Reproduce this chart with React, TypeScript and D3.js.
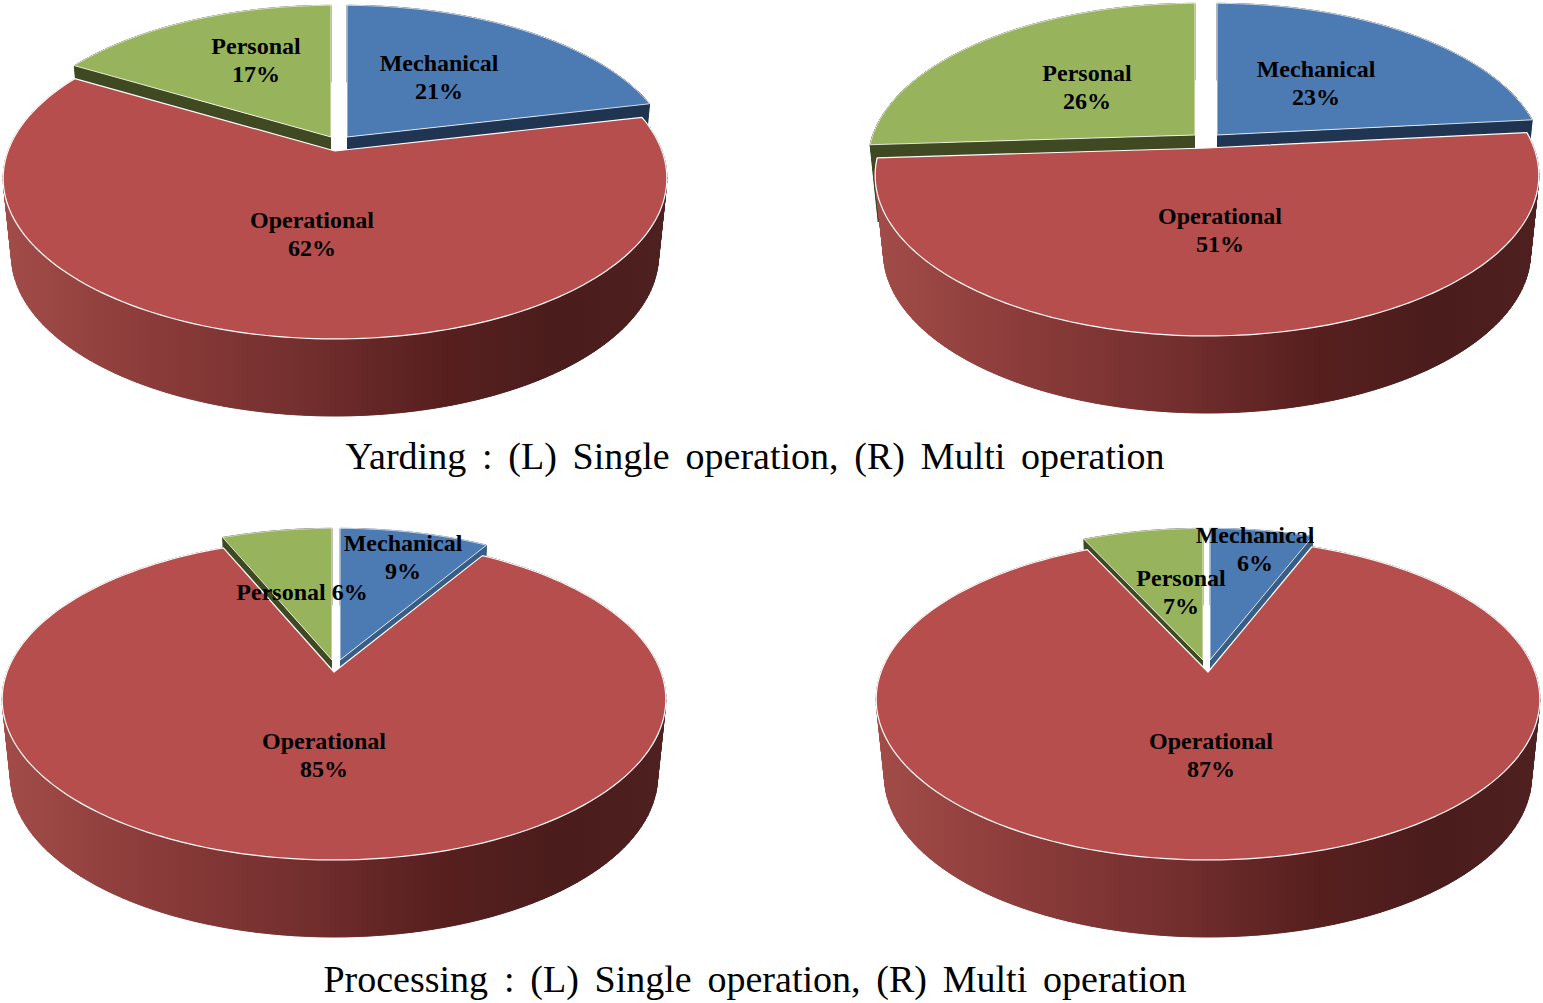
import React from "react";
import * as d3 from "d3";

const categories = ["Mechanical", "Operational", "Personal"];
const yardingSingle = [21.4, 62, 16.6];
const yardingMulti = [23.4, 50.6, 26];
const processingSingle = [8.7, 84.9, 6.4];
const processingMulti = [6, 87, 7];
const captions = [
  "Yarding : (L) Single operation, (R) Multi operation",
  "Processing : (L) Single operation, (R) Multi operation",
];

const WIDTH = 1543;
const HEIGHT = 1003;
const K = 0.17;
const G = 156;
const F = 327;
const DEPTH = 77;
const SLICE_RADIUS = 0.985;

const faceColors = ["#4c7ab3", "#b54e4c", "#97b45d"];
const serif = "'Liberation Serif', serif";

const wallStops = [0, 0.2, 0.45, 0.65, 0.85, 1];
const wallColors = ["#a24c49", "#8d3d3b", "#732f2e", "#58201f", "#4a1c1c", "#4f2020"];

type Label = { name: string; x: number; y: number; lines: string[] };
type Chart = {
  values: number[];
  cx: number;
  apexX: number;
  apexY: number;
  offsets: [number, number][];
  mechWall: string;
  labels: Label[];
};

const charts: Chart[] = [
  {
    values: yardingSingle, cx: 335, apexX: 335, apexY: 151,
    offsets: [[12, -14], [0, 0], [-4, -14]], mechWall: "#1f3552",
    labels: [
      { name: "Mechanical", x: 439, y: 71, lines: ["Mechanical", "21%"] },
      { name: "Operational", x: 312, y: 228, lines: ["Operational", "62%"] },
      { name: "Personal", x: 256, y: 54, lines: ["Personal", "17%"] },
    ],
  },
  {
    values: yardingMulti, cx: 1207, apexX: 1207, apexY: 148,
    offsets: [[10, -13], [0, 0], [-12, -13]], mechWall: "#1f3552",
    labels: [
      { name: "Mechanical", x: 1316, y: 77, lines: ["Mechanical", "23%"] },
      { name: "Operational", x: 1220, y: 224, lines: ["Operational", "51%"] },
      { name: "Personal", x: 1087, y: 81, lines: ["Personal", "26%"] },
    ],
  },
  {
    values: processingSingle, cx: 334, apexX: 334, apexY: 672,
    offsets: [[6, -12], [0, 0], [-2, -12]], mechWall: "#375e87",
    labels: [
      { name: "Mechanical", x: 403, y: 551, lines: ["Mechanical", "9%"] },
      { name: "Operational", x: 324, y: 749, lines: ["Operational", "85%"] },
      { name: "Personal", x: 302, y: 600, lines: ["Personal 6%"] },
    ],
  },
  {
    values: processingMulti, cx: 1208, apexX: 1208, apexY: 672,
    offsets: [[2, -12], [0, 0], [-5, -12]], mechWall: "#375e87",
    labels: [
      { name: "Mechanical", x: 1255, y: 543, lines: ["Mechanical", "6%"] },
      { name: "Operational", x: 1211, y: 749, lines: ["Operational", "87%"] },
      { name: "Personal", x: 1181, y: 586, lines: ["Personal", "7%"] },
    ],
  },
];

const personalWall = "#3f4a22";

const project = (c: Chart, a: number, r = 1, z = 0): [number, number] => {
  const X = Math.sin(a) * r;
  const Y = Math.cos(a) * r;
  const w = 1 + K * Y;
  const shrink = 1 - 0.025 * z;
  return [c.apexX + (F * X * shrink) / w, c.apexY - (G * Y) / w + DEPTH * z];
};

const line = d3.line<[number, number]>();

const SEGMENTS = 160;
const arcPoints = (c: Chart, a0: number, a1: number, r: number, z = 0) =>
  d3.range(0, SEGMENTS + 1).map((i) => project(c, a0 + ((a1 - a0) * i) / SEGMENTS, r, z));

const PieChart = ({ chart, index }: { chart: Chart; index: number }) => {
  const arcs = d3.pie<number>().sort(null).startAngle(0).endAngle(2 * Math.PI)(chart.values);
  const gradId = `opWall${index}`;
  const pieces = arcs.map((arc, i) => {
    const [dx, dy] = chart.offsets[i];
    const r = i === 1 ? 1 : SLICE_RADIUS;
    const top = arcPoints(chart, arc.startAngle, arc.endAngle, r);
    const bottom = arcPoints(chart, arc.startAngle, arc.endAngle, r, 1);
    const apex = project(chart, 0, 0);
    const apexLow = project(chart, 0, 0, 1);
    const strips = d3
      .range(0, SEGMENTS)
      .map((s) => line([top[s], top[s + 1], bottom[s + 1], bottom[s]])! + "Z");
    return {
      i,
      transform: `translate(${dx},${dy})`,
      face: line([apex, ...top])! + "Z",
      strips,
      edgeA: line([apex, top[0], bottom[0], apexLow])! + "Z",
      edgeB: line([apex, top[SEGMENTS], bottom[SEGMENTS], apexLow])! + "Z",
      wall: i === 1 ? `url(#${gradId})` : i === 0 ? chart.mechWall : personalWall,
    };
  });
  const order = [0, 2, 1];
  return (
    <g>
      <defs>
        <linearGradient
          id={gradId}
          gradientUnits="userSpaceOnUse"
          x1={chart.cx - 331}
          x2={chart.cx + 331}
          y1={0}
          y2={0}
        >
          {wallStops.map((o, j) => (
            <stop key={o} offset={o} stopColor={wallColors[j]} />
          ))}
        </linearGradient>
      </defs>
      {order.map((i) => {
        const p = pieces[i];
        return (
          <g key={categories[i]} transform={p.transform}>
            {i !== 1 && <path d={p.edgeA} fill={p.wall} />}
            {i !== 1 && <path d={p.edgeB} fill={p.wall} />}
            <path d={p.strips.join("")} fill={p.wall} stroke={p.wall} strokeWidth={0.7} fillRule="nonzero" />
            {p.strips.map((d, j) => (
              <path key={j} d={d} fill={p.wall} stroke={p.wall} strokeWidth={0.7} />
            ))}
            <path
              d={p.face}
              fill={faceColors[i]}
              stroke="#ffffff"
              strokeWidth={i === 1 ? 1.2 : 0.8}
              strokeLinejoin="round"
            />
          </g>
        );
      })}
      {chart.labels.map((l) =>
        l.lines.map((t, j) => (
          <text
            key={l.name + j}
            x={l.x}
            y={l.y + j * 28}
            textAnchor="middle"
            fontFamily={serif}
            fontWeight="bold"
            fontSize={24}
            fill="#000000"
          >
            {t}
          </text>
        ))
      )}
    </g>
  );
};

export default function App() {
  return (
    <svg
      width={WIDTH}
      height={HEIGHT}
      viewBox={`0 0 ${WIDTH} ${HEIGHT}`}
      style={{ position: "absolute", left: 0, top: 0, background: "#ffffff" }}
    >
      {charts.map((c, i) => (
        <PieChart key={i} chart={c} index={i} />
      ))}
      {captions.map((t, i) => (
        <text
          key={t}
          x={755}
          y={i === 0 ? 469 : 992}
          textAnchor="middle"
          fontFamily={serif}
          fontSize={38}
          wordSpacing={6.3}
          fill="#000000"
        >
          {t}
        </text>
      ))}
    </svg>
  );
}
